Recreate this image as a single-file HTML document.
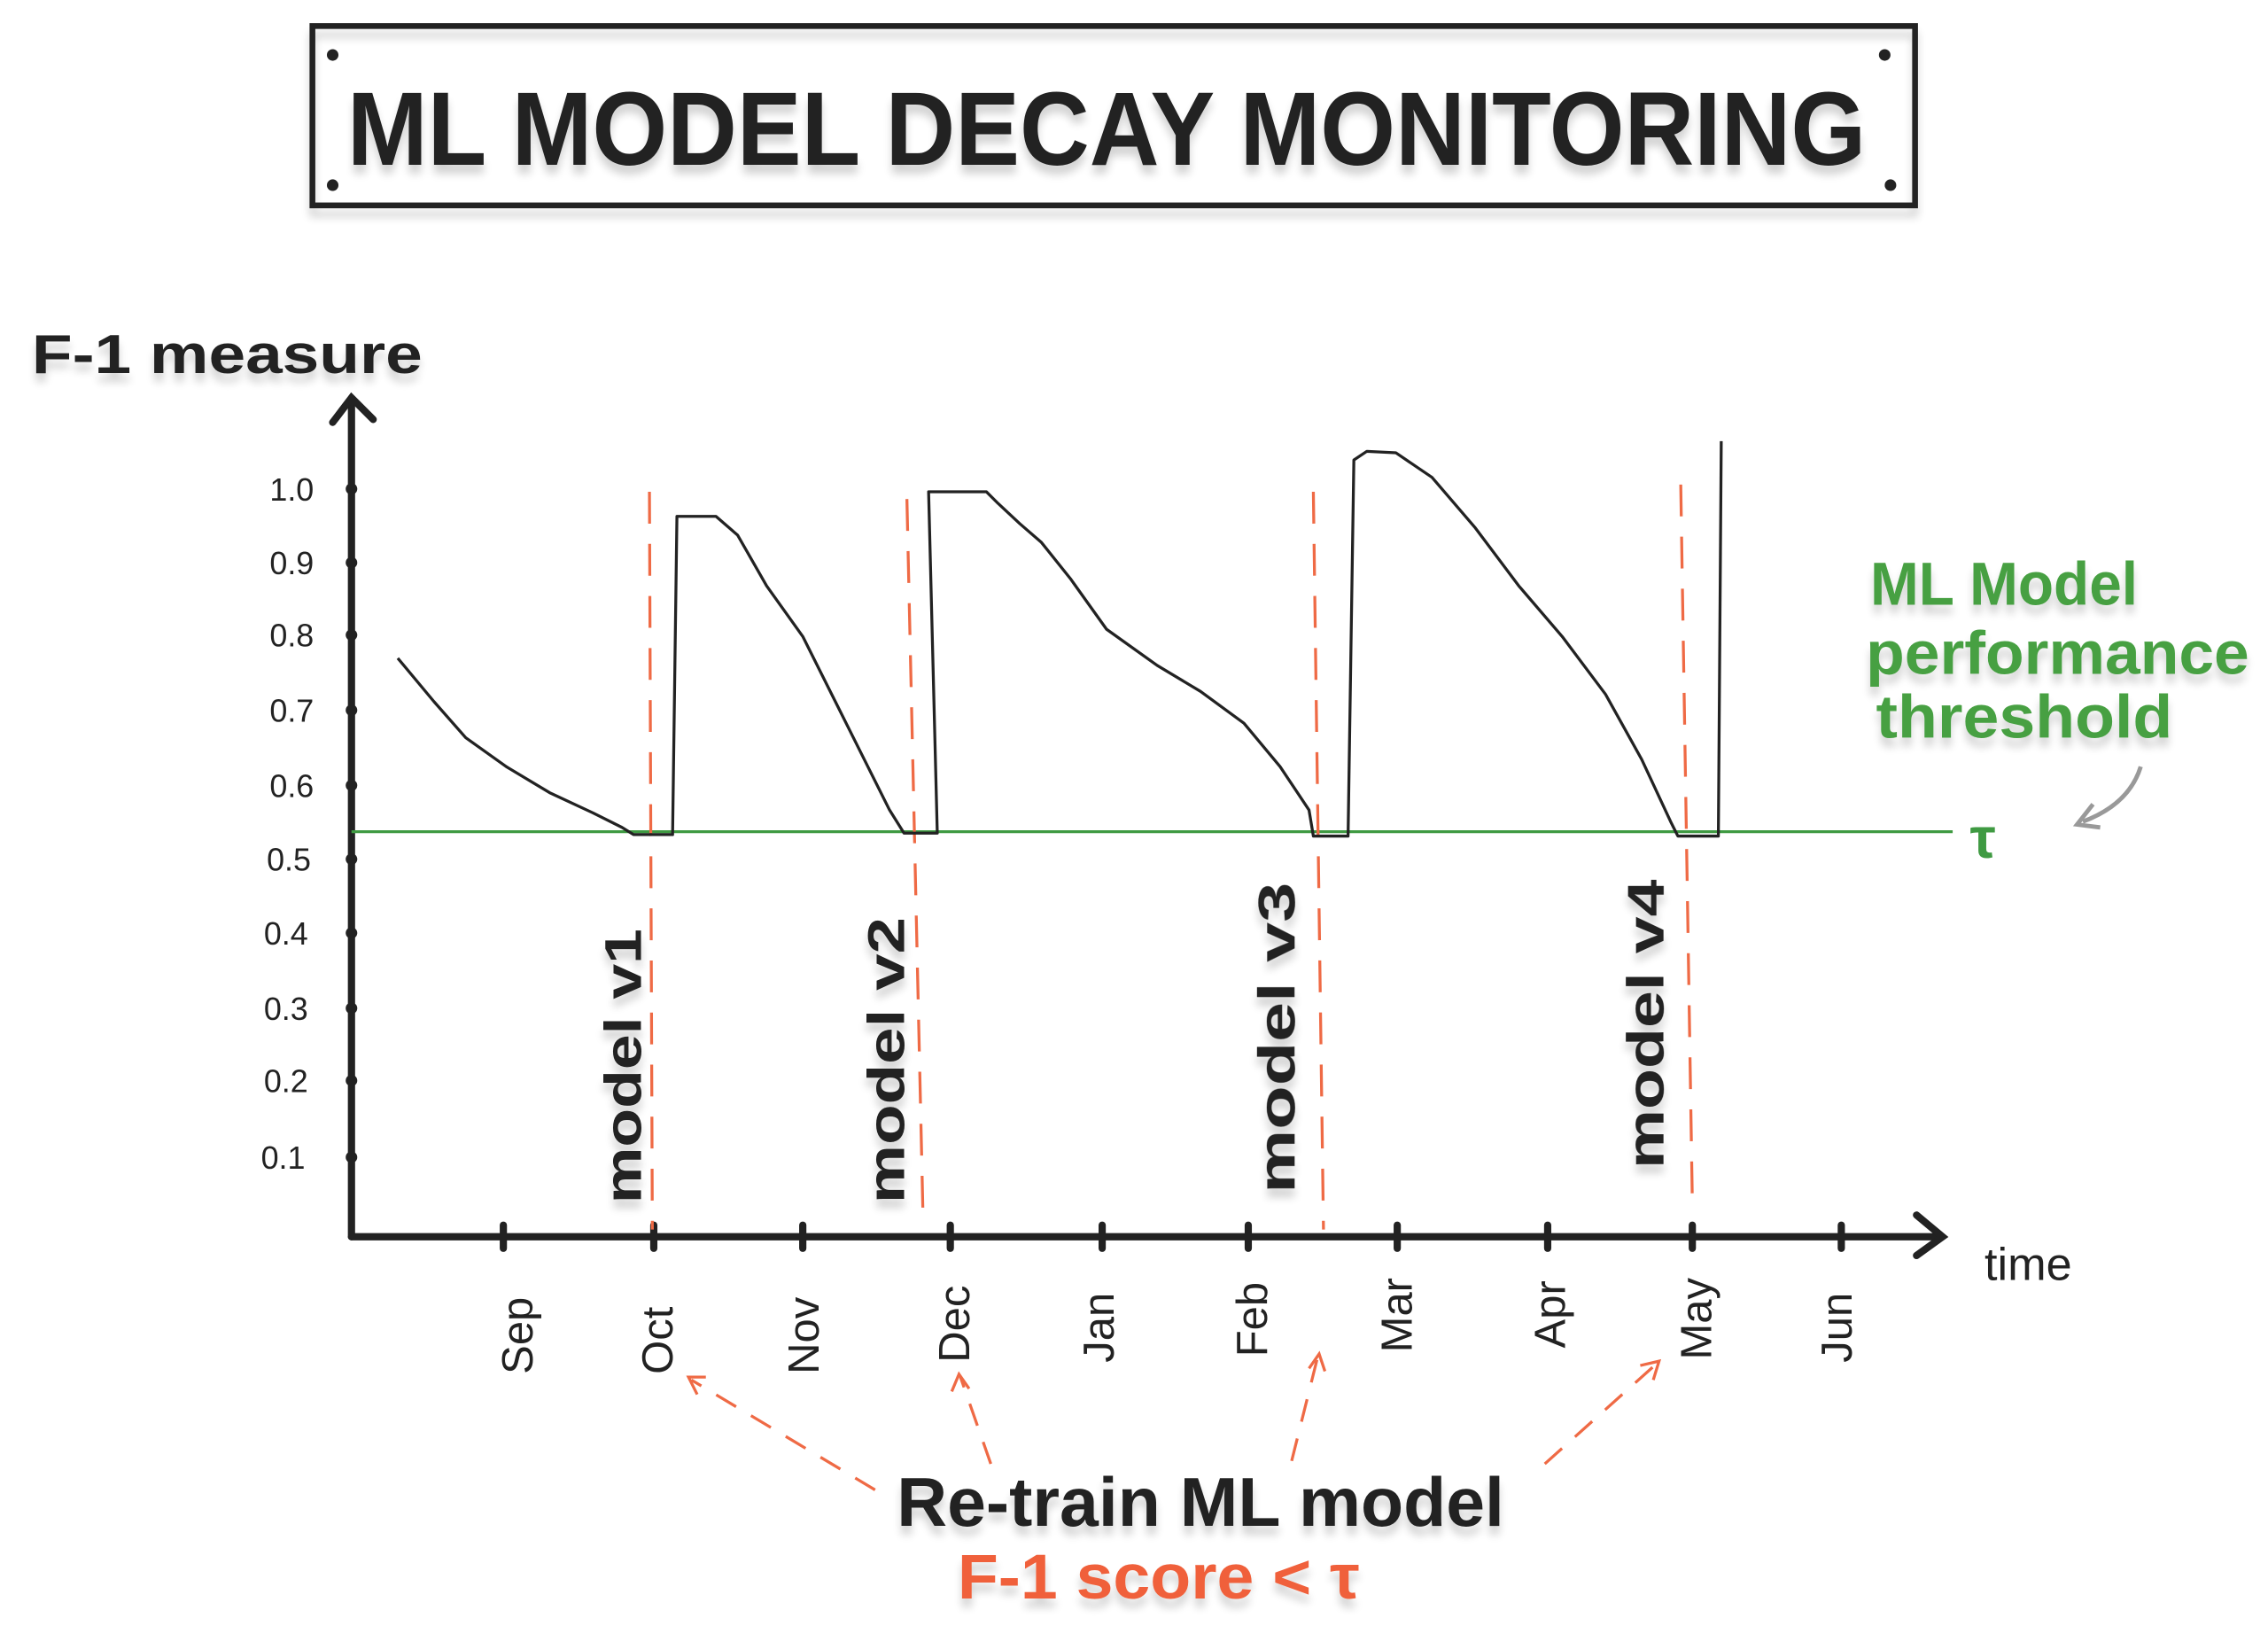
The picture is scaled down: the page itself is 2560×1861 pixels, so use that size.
<!DOCTYPE html>
<html><head><meta charset="utf-8"><style>
html,body{margin:0;padding:0;background:#fff;}
svg{display:block;}
text{font-family:"Liberation Sans","DejaVu Sans",sans-serif;}
</style></head><body>
<svg width="2560" height="1861" viewBox="0 0 1568 1140" preserveAspectRatio="none" xmlns="http://www.w3.org/2000/svg">
<defs>
<filter id="sh" x="-10%" y="-30%" width="120%" height="160%"><feGaussianBlur in="SourceAlpha" stdDeviation="3"/><feOffset dx="0" dy="6"/><feComponentTransfer><feFuncA type="linear" slope="0.18"/></feComponentTransfer><feMerge><feMergeNode/><feMergeNode in="SourceGraphic"/></feMerge></filter>
</defs>
<rect x="0" y="0" width="1568" height="1140" fill="#fff"/>
<!-- title box -->
<rect x="216" y="18" width="1108" height="124" fill="none" stroke="#222" stroke-width="4" filter="url(#sh)"/>
<circle cx="230" cy="38" r="4" fill="#222"/><circle cx="1303" cy="38" r="4" fill="#222"/>
<circle cx="230" cy="128" r="4" fill="#222"/><circle cx="1307" cy="128" r="4" fill="#222"/>
<text x="240" y="114" font-size="72" font-weight="bold" fill="#222" textLength="1050" lengthAdjust="spacingAndGlyphs" filter="url(#sh)">ML MODEL DECAY  MONITORING</text>
<!-- y axis label -->
<text x="22" y="258" font-size="38" font-weight="bold" fill="#222" textLength="270" lengthAdjust="spacingAndGlyphs" filter="url(#sh)">F-1 measure</text>
<!-- axes -->
<g stroke="#222" stroke-width="5" fill="none" stroke-linecap="round">
<line x1="243" y1="278" x2="243" y2="855"/>
<polyline points="230,292 243,275 258,290"/>
<line x1="243" y1="855" x2="1340" y2="855"/>
<polyline points="1325,840 1343,855 1325,868"/>
</g>
<!-- y ticks -->
<g fill="#222">
<circle cx="243" cy="338" r="4"/><circle cx="243" cy="389" r="4"/><circle cx="243" cy="439" r="4"/><circle cx="243" cy="491" r="4"/><circle cx="243" cy="543" r="4"/><circle cx="243" cy="594" r="4"/><circle cx="243" cy="645" r="4"/><circle cx="243" cy="697" r="4"/><circle cx="243" cy="747" r="4"/><circle cx="243" cy="800" r="4"/>
</g>
<g font-size="22" fill="#222" text-anchor="end">
<text x="217" y="346">1.0</text><text x="217" y="397">0.9</text><text x="217" y="447">0.8</text><text x="217" y="499">0.7</text><text x="217" y="551">0.6</text><text x="215" y="602">0.5</text><text x="213" y="653">0.4</text><text x="213" y="705">0.3</text><text x="213" y="755">0.2</text><text x="211" y="808">0.1</text>
</g>
<!-- x ticks -->
<g stroke="#222" stroke-width="5" stroke-linecap="round">
<line x1="348" y1="847" x2="348" y2="863"/><line x1="452" y1="847" x2="452" y2="863"/><line x1="555" y1="847" x2="555" y2="863"/><line x1="657" y1="847" x2="657" y2="863"/><line x1="762" y1="847" x2="762" y2="863"/><line x1="863" y1="847" x2="863" y2="863"/><line x1="966" y1="847" x2="966" y2="863"/><line x1="1070" y1="847" x2="1070" y2="863"/><line x1="1170" y1="847" x2="1170" y2="863"/><line x1="1273" y1="847" x2="1273" y2="863"/>
</g>
<g font-size="30" fill="#222">
<text transform="translate(368,950) rotate(-90)">Sep</text>
<text transform="translate(465,950) rotate(-90)">Oct</text>
<text transform="translate(566,950) rotate(-90)">Nov</text>
<text transform="translate(670,942) rotate(-90)">Dec</text>
<text transform="translate(770,942) rotate(-90)">Jan</text>
<text transform="translate(876,938) rotate(-90)">Feb</text>
<text transform="translate(976,935) rotate(-90)">Mar</text>
<text transform="translate(1082,932) rotate(-90)">Apr</text>
<text transform="translate(1183,940) rotate(-90)">May</text>
<text transform="translate(1280,942) rotate(-90)">Jun</text>
</g>
<text x="1372" y="885" font-size="32" fill="#222">time</text>
<!-- threshold -->
<line x1="243" y1="575" x2="1350" y2="575" stroke="#3f9a42" stroke-width="2"/>
<text x="1362" y="593" font-size="40" font-weight="bold" fill="#3f9a42">τ</text>
<g font-size="42" font-weight="bold" fill="#47a043" filter="url(#sh)">
<text x="1293" y="418" textLength="185" lengthAdjust="spacingAndGlyphs">ML Model</text>
<text x="1290" y="466" textLength="265" lengthAdjust="spacingAndGlyphs">performance</text>
<text x="1297" y="510" textLength="205" lengthAdjust="spacingAndGlyphs">threshold</text>
</g>
<path d="M1480,530 Q1472,556 1440,568" stroke="#999" stroke-width="3" fill="none"/>
<polyline points="1447,556 1436,570 1452,572" stroke="#999" stroke-width="3" fill="none"/>
<!-- red dashed verticals -->
<g stroke="#ef6a45" stroke-width="2" stroke-dasharray="22,14" fill="none">
<line x1="449" y1="340" x2="451" y2="850"/>
<line x1="627" y1="345" x2="638" y2="835"/>
<line x1="908" y1="340" x2="915" y2="850"/>
<line x1="1162" y1="335" x2="1170" y2="830"/>
</g>
<!-- model labels -->
<g font-size="36" font-weight="bold" fill="#222" filter="url(#sh)">
<text transform="translate(443,832) rotate(-90)" textLength="190" lengthAdjust="spacingAndGlyphs">model v1</text>
<text transform="translate(625,832) rotate(-90)" textLength="198" lengthAdjust="spacingAndGlyphs">model v2</text>
<text transform="translate(895,825) rotate(-90)" textLength="215" lengthAdjust="spacingAndGlyphs">model v3</text>
<text transform="translate(1150,808) rotate(-90)" textLength="200" lengthAdjust="spacingAndGlyphs">model v4</text>
</g>
<!-- curve -->
<polyline fill="none" stroke="#222" stroke-width="2" stroke-linejoin="round" points="275,455 300,485 322,510 350,530 380,548 410,562 430,572 438,577 465,577 468,357 495,357 510,370 530,405 555,440 580,490 600,530 615,560 625,576 648,576 642,340 682,340 690,348 705,362 720,375 740,400 765,435 800,460 830,478 860,500 885,530 905,560 908,578 932,578 936,318 945,312 965,313 990,330 1020,365 1050,405 1080,440 1110,480 1135,525 1155,568 1160,578 1188,578 1190,305"/>
<!-- retrain arrows -->
<g stroke="#ef6a45" stroke-width="2" stroke-dasharray="16,12" fill="none">
<line x1="605" y1="1030" x2="478" y2="954"/>
<line x1="685" y1="1012" x2="664" y2="952"/>
<line x1="893" y1="1010" x2="911" y2="938"/>
<line x1="1068" y1="1012" x2="1145" y2="943"/>
</g>
<g stroke="#ef6a45" stroke-width="2" fill="none">
<polyline points="488,952 476,952 482,964"/>
<polyline points="658,962 663,950 670,960"/>
<polyline points="905,946 912,936 916,948"/>
<polyline points="1134,944 1147,941 1143,954"/>
</g>
<text x="620" y="1055" font-size="48" font-weight="bold" fill="#222" textLength="420" lengthAdjust="spacingAndGlyphs" filter="url(#sh)">Re-train  ML model</text>
<text x="662" y="1105" font-size="44" font-weight="bold" fill="#f0603a" textLength="278" lengthAdjust="spacingAndGlyphs" filter="url(#sh)">F-1 score &lt; τ</text>
</svg>
</body></html>
